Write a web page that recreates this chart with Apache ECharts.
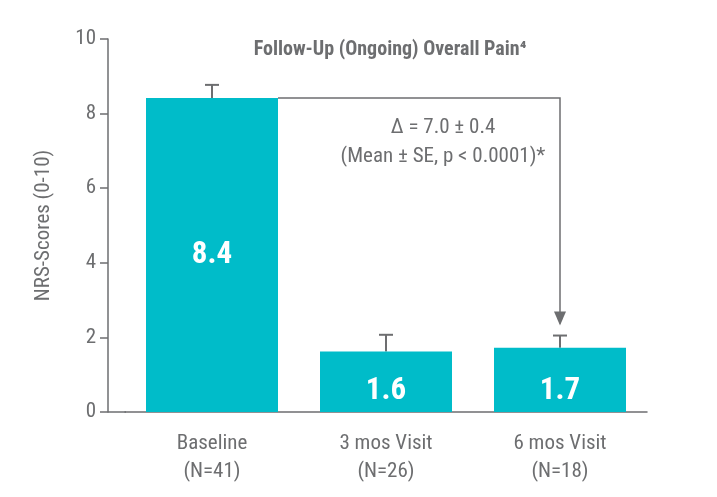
<!DOCTYPE html>
<html>
<head>
<meta charset="utf-8">
<script src="https://cdn.jsdelivr.net/npm/echarts@6/dist/echarts.min.js"></script>
<style>html,body{margin:0;background:#fff}#c{width:717px;height:497px}</style>
</head>
<body>
<div id="c"></div>
<script>
var categories = ['Baseline\n(N=41)', '3 mos Visit\n(N=26)', '6 mos Visit\n(N=18)'];
var means = [8.4, 1.6, 1.7];
var barTops = [8.42, 1.62, 1.72];
var errTops = [8.77, 2.07, 2.05];
var yTicks = [0, 2, 4, 6, 8, 10];

var font = '"Liberation Sans Narrow", "Roboto Condensed", "DejaVu Sans Condensed", sans-serif';
var gray = '#6d6e70';
var teal = '#00bcc9';

var chart = echarts.init(document.getElementById('c'));

var option = {
  animation: false,
  grid: { left: 125, right: 70, top: 39, bottom: 85 },
  title: {
    text: 'Follow-Up (Ongoing) Overall Pain\u2074',
    left: 385, top: 35, textAlign: 'center',
    textStyle: { fontFamily: font, fontSize: 20, fontWeight: 'bold', color: gray }
  },
  xAxis: {
    type: 'category',
    data: categories,
    axisLine: { lineStyle: { color: gray, width: 1.5 } },
    axisTick: { show: false },
    axisLabel: { fontFamily: font, fontSize: 21, color: gray, lineHeight: 28, margin: 18 }
  },
  yAxis: {
    type: 'value',
    min: 0, max: 10, interval: 2,
    offset: 17,
    name: 'NRS-Scores (0-10)',
    nameLocation: 'middle',
    nameGap: 54,
    nameTextStyle: { fontFamily: font, fontSize: 21, color: gray },
    axisLine: { show: true, lineStyle: { color: gray, width: 1.5 } },
    axisTick: { show: true, length: 8, lineStyle: { color: gray, width: 1.5 } },
    axisLabel: { fontFamily: font, fontSize: 21, color: gray, margin: 12 },
    splitLine: { show: false }
  },
  series: [
    {
      type: 'custom',
      z: 1,
      renderItem: function (params, api) {
        var base = api.coord([api.value(0), api.value(1)]);
        var top = api.coord([api.value(0), api.value(2)]);
        var st = { stroke: gray, lineWidth: 2 };
        return {
          type: 'group',
          children: [
            { type: 'line', shape: { x1: base[0], y1: base[1], x2: top[0], y2: top[1] }, style: st },
            { type: 'line', shape: { x1: top[0] - 7, y1: top[1], x2: top[0] + 7, y2: top[1] }, style: st }
          ]
        };
      },
      data: categories.map(function (c, i) { return [i, barTops[i], errTops[i]]; })
    },
    {
      type: 'bar',
      z: 2,
      barWidth: 132,
      itemStyle: { color: teal },
      data: barTops.map(function (v, i) {
        return {
          value: v,
          label: {
            show: true,
            position: i === 0 ? 'inside' : 'insideBottom',
            distance: i === 0 ? 0 : 5,
            formatter: means[i].toFixed(1),
            fontFamily: font, fontSize: 31, fontWeight: 'bold', color: '#fff'
          }
        };
      })
    }
  ]
};
chart.setOption(option);

// annotation arrow from baseline top to 6 mos visit
var p0 = chart.convertToPixel({ gridIndex: 0 }, [0, barTops[0]]);
var p2 = chart.convertToPixel({ gridIndex: 0 }, [2, errTops[2]]);
var pz = chart.convertToPixel({ gridIndex: 0 }, [0, 0]);
var x0 = p0[0] + 66;
var y0 = p0[1];
var x2 = p2[0];
var yEnd = p2[1] - 12;
chart.setOption({
  graphic: [
    { type: 'line', shape: { x1: 108, y1: pz[1], x2: 126, y2: pz[1] }, style: { stroke: gray, lineWidth: 1.5 } },
    { type: 'polyline', shape: { points: [[x0, y0], [x2, y0], [x2, yEnd]] }, style: { stroke: gray, lineWidth: 1.5, fill: null } },
    { type: 'polygon', shape: { points: [[x2 - 6, yEnd - 12], [x2 + 6, yEnd - 12], [x2, yEnd + 2]] }, style: { fill: gray } },
    { type: 'text', x: 443, y: 128, style: { text: '\u0394 = 7.0 \u00b1 0.4', align: 'center', verticalAlign: 'middle', font: '21px ' + font, fill: gray } },
    { type: 'text', x: 443, y: 157, style: { text: '(Mean \u00b1 SE, p < 0.0001)*', align: 'center', verticalAlign: 'middle', font: '21px ' + font, fill: gray } }
  ]
});
</script>
</body>
</html>
